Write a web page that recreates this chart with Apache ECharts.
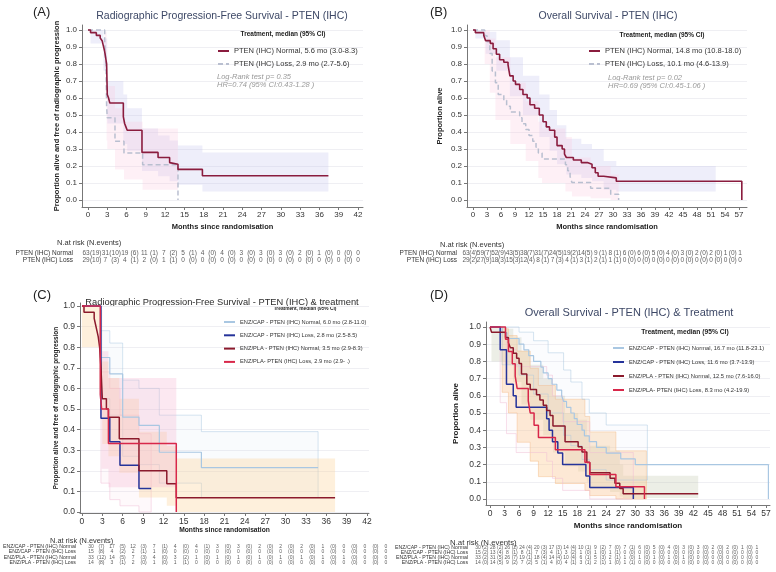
<!DOCTYPE html>
<html><head><meta charset="utf-8">
<script src="https://cdn.jsdelivr.net/npm/echarts@6/dist/echarts.min.js"></script>
<style>html,body{margin:0;padding:0;background:#fff}#c{width:776px;height:572px}</style>
</head><body><div id="c"></div>
<script>
// ---------- Tick labels ----------
const yTicks = [0,0.1,0.2,0.3,0.4,0.5,0.6,0.7,0.8,0.9,1.0];
const xTicks42 = [0,3,6,9,12,15,18,21,24,27,30,33,36,39,42];
const xTicks57 = [0,3,6,9,12,15,18,21,24,27,30,33,36,39,42,45,48,51,54,57];

// ---------- Panel A: rPFS by PTEN ----------
const aNormT = [0,0.4,1.3,1.9,2.2,2.4,2.6,2.9,3.0,3.2,3.4,5.5,5.7,5.9,6.1,8.4,10.9,12.7,13.0,14.0,17.8,37.4];
const aNormS = [1,0.984,0.968,0.952,0.937,0.905,0.873,0.80,0.62,0.60,0.57,0.49,0.45,0.43,0.41,0.28,0.25,0.22,0.21,0.18,0.143,0.143];
const aLossT = [0,2.6,2.8,2.9,3.0,4.2,5.6,8.5,14.0];
const aLossS = [1,0.931,0.793,0.552,0.483,0.345,0.276,0.207,0];
const aNormCIt = [0,0.4,2.4,3.0,5.5,6.1,8.4,10.9,12.7,14.0,17.8];
const aNormCIlo = [1,0.92,0.76,0.45,0.33,0.29,0.17,0.14,0.11,0.09,0.05];
const aNormCIhi = [1,1.0,0.95,0.70,0.62,0.54,0.42,0.38,0.35,0.32,0.28];
const aLossCIt = [0,2.6,2.9,3.0,4.2,5.6,8.5];
const aLossCIlo = [1,0.78,0.35,0.30,0.18,0.12,0.06];
const aLossCIhi = [1,0.99,0.74,0.67,0.54,0.46,0.42];
const riskA = {
  rows: ['PTEN (IHC) Normal','PTEN (IHC) Loss'],
  counts: [[63,31,19,11,7,5,4,4,3,3,3,2,1,0,0],[29,7,4,2,1,0,0,0,0,0,0,0,0,0,0]],
  events: [[19,10,6,1,2,1,0,0,0,0,0,0,0,0],[10,3,1,0,1,0,0,0,0,0,0,0,0,0]]
};

// ---------- Panel B: OS by PTEN ----------
const bNormT = [0,0.5,2.3,2.7,3.7,4.3,5.0,5.7,6.6,7.5,7.9,8.6,9.1,10.0,10.7,11.6,12.2,13.2,14.2,15.0,15.7,16.4,17.5,18.0,19.1,19.6,20.0,21.5,23.2,24.5,25.5,26.2,26.8,28.0,30.7,57.6];
const bNormS = [1,0.984,0.968,0.937,0.921,0.889,0.857,0.825,0.81,0.794,0.73,0.70,0.68,0.65,0.62,0.60,0.56,0.54,0.50,0.46,0.43,0.41,0.37,0.32,0.30,0.27,0.25,0.235,0.22,0.21,0.19,0.16,0.14,0.13,0.11,0];
const bLossT = [0,2.5,3.0,3.6,4.1,4.8,5.4,6.6,7.2,8.0,10.0,10.5,11.3,12.0,12.8,13.5,14.0,14.8,19.8,20.3,20.8,21.2,25.2,29.5,31.2];
const bLossS = [1,0.966,0.931,0.862,0.759,0.69,0.621,0.586,0.552,0.517,0.483,0.448,0.414,0.379,0.345,0.31,0.276,0.241,0.207,0.172,0.138,0.103,0.069,0.034,0];
const bNormCIt = [0,0.5,2.7,5.0,7.9,10.7,14.2,16.4,18.0,20.0,23.2,25.5,28.0,30.7];
const bNormCIlo = [1,0.95,0.86,0.76,0.61,0.50,0.37,0.29,0.21,0.15,0.13,0.11,0.06,0.05];
const bNormCIhi = [1,1.0,0.99,0.94,0.84,0.73,0.62,0.53,0.44,0.36,0.33,0.30,0.23,0.20];
const bLossCIt = [0,2.5,3.6,4.8,8.0,11.3,14.0,14.8,19.8,21.2,25.2,29.5];
const bLossCIlo = [1,0.80,0.63,0.47,0.33,0.23,0.13,0.10,0.05,0.02,0.01,0.0];
const bLossCIhi = [1,1.0,0.95,0.84,0.69,0.58,0.46,0.42,0.37,0.25,0.20,0.15];
const riskB = {
  rows: ['PTEN (IHC) Normal','PTEN (IHC) Loss'],
  counts: [[63,59,52,43,38,31,24,19,14,9,8,6,6,5,4,3,2,2,1,1],[29,27,18,15,12,8,7,4,3,2,1,0,0,0,0,0,0,0,0,0]],
  events: [[4,7,9,5,7,7,5,2,5,1,1,0,0,0,0,0,0,0,0],[2,9,3,3,4,1,3,1,1,1,1,0,0,0,0,0,0,0,0]]
};

// ---------- Panel C: rPFS by PTEN & treatment ----------
const cCapNT = [0,2.7,4.1,6.0,8.4,11.4,17.6,34.8];
const cCapNS = [1,0.75,0.67,0.46,0.42,0.29,0.215,0.215];
const cCapLT = [0,2.8,4.1,5.6,8.4,10.2];
const cCapLS = [1,0.455,0.341,0.227,0.114,0.114];
const cPlaNT = [0,0.3,1.8,2.0,2.2,2.4,2.6,2.8,3.0,3.6,3.9,5.5,8.4,12.5,13.9,37.3];
const cPlaNS = [1,0.97,0.94,0.91,0.88,0.85,0.80,0.70,0.55,0.50,0.46,0.355,0.20,0.137,0.069,0.069];
const cPlaLT = [0,2.7,2.9,3.9,13.9];
const cPlaLS = [1,0.571,0.5,0.333,0];
const cPlaNCIt = [0,2.6,3.0,3.9,5.5,8.4,12.5,13.9];
const cPlaNCIlo = [0.80,0.60,0.33,0.27,0.19,0.07,0.03,0.0];
const cPlaNCIhi = [1.0,0.98,0.73,0.65,0.55,0.39,0.32,0.26];
const cPlaLCIt = [2.9,3.9];
const cPlaLCIlo = [0.21,0.12];
const cPlaLCIhi = [0.78,0.65];
const cCapLCIt = [2.8,4.1,5.6,8.4];
const cCapLCIlo = [0.14,0.06,0.03,0.0];
const cCapLCIhi = [0.68,0.60,0.47,0.38];
const cCapNCIt = [2.7,4.1,6.0,8.4,11.4,17.6];
const cCapNCIlo = [0.55,0.47,0.27,0.23,0.14,0.07];
const cCapNCIhi = [0.88,0.82,0.64,0.60,0.47,0.39];
const riskC = {
  rows: ['ENZ/CAP - PTEN (IHC) Normal','ENZ/CAP - PTEN (IHC) Loss','ENZ/PLA - PTEN (IHC) Normal','ENZ/PLA - PTEN (IHC) Loss'],
  counts: [[30,17,12,7,4,4,3,3,2,2,2,1,0,0,0],[15,4,2,1,0,0,0,0,0,0,0,0,0,0,0],[33,14,7,4,3,1,1,1,1,1,1,1,1,0,0],[14,3,2,1,1,0,0,0,0,0,0,0,0,0,0]],
  events: [[7,5,3,1,0,1,0,0,0,0,0,0,0,0],[8,2,1,0,0,0,0,0,0,0,0,0,0,0],[12,5,3,0,2,0,0,0,0,0,0,0,0,0],[8,1,0,0,1,0,0,0,0,0,0,0,0,0]]
};

// ---------- Panel D: OS by PTEN & treatment ----------
const dCapNT = [0,2.5,3.5,6.0,7.0,8.0,9.0,10.5,11.0,12.0,12.8,13.8,14.8,15.2,15.8,16.7,17.4,18.0,19.0,19.5,20.5,22.0,24.0,27.0,30.0,57.5];
const dCapNS = [1,0.967,0.933,0.90,0.867,0.833,0.80,0.767,0.733,0.70,0.667,0.633,0.60,0.567,0.533,0.50,0.467,0.433,0.40,0.367,0.333,0.30,0.267,0.233,0.20,0];
const dCapLT = [0,2.1,3.4,4.8,5.4,11.7,12.2,12.9,14.0,15.0,19.8,20.6,29.6];
const dCapLS = [1,0.867,0.667,0.60,0.533,0.467,0.40,0.333,0.267,0.20,0.133,0.067,0];
const dPlaNT = [0,0.3,3.2,3.8,4.2,4.8,5.5,6.0,6.5,7.6,8.3,9.6,10.3,11.0,11.7,12.4,13.0,15.5,18.2,19.0,20.0,20.6,24.8,25.8,26.8,27.5,43.0];
const dPlaNS = [1,0.97,0.939,0.909,0.879,0.848,0.818,0.788,0.727,0.667,0.636,0.606,0.576,0.545,0.515,0.485,0.424,0.333,0.303,0.273,0.212,0.152,0.121,0.091,0.061,0.03,0.03];
const dPlaLT = [0,3.2,3.8,4.6,5.2,5.6,7.9,8.3,9.1,10.0,13.5,19.6,20.6,26.0,31.9];
const dPlaLS = [1,0.929,0.857,0.786,0.714,0.643,0.571,0.5,0.429,0.357,0.286,0.214,0.143,0.071,0];
const dPlaNCIt = [0,0.3,3.2,4.8,6.5,8.3,11.0,13.0,15.5,18.2,20.0,20.6,24.8,26.8,27.5];
const dPlaNCIlo = [1,0.80,0.78,0.68,0.55,0.46,0.37,0.27,0.19,0.16,0.10,0.06,0.04,0.015,0.005];
const dPlaNCIhi = [1,1.0,0.99,0.94,0.86,0.78,0.70,0.60,0.50,0.46,0.37,0.31,0.28,0.20,0.135];
const dPlaLCIt = [2.5,3.8,5.6,8.3,10.0,13.5,19.6,20.6,26.0];
const dPlaLCIlo = [0.62,0.50,0.33,0.22,0.13,0.09,0.05,0.02,0.0];
const dPlaLCIhi = [0.99,0.95,0.86,0.76,0.66,0.58,0.48,0.39,0.28];
const dCapLCIt = [2.1,3.4,5.4,11.7,12.9,15.0,20.6];
const dCapLCIlo = [0.56,0.38,0.27,0.22,0.12,0.05,0.0];
const dCapLCIhi = [0.97,0.87,0.77,0.72,0.60,0.45,0.27];
const dCapNCIt = [2.5,6.0,9.0,12.0,15.2,16.7,19.0,20.5,24.0];
const dCapNCIlo = [0.78,0.72,0.61,0.50,0.37,0.31,0.23,0.17,0.11];
const dCapNCIhi = [1.0,0.97,0.92,0.85,0.75,0.68,0.58,0.50,0.43];
const riskD = {
  rows: ['ENZ/CAP - PTEN (IHC) Normal','ENZ/CAP - PTEN (IHC) Loss','ENZ/PLA - PTEN (IHC) Normal','ENZ/PLA - PTEN (IHC) Loss'],
  counts: [[30,28,26,24,20,17,14,10,9,7,7,6,5,4,3,3,2,2,1,1],[15,13,8,8,7,4,3,1,1,1,0,0,0,0,0,0,0,0,0,0],[33,31,26,19,18,14,10,6,5,2,1,1,1,1,1,0,0,0,0,0],[14,14,9,7,5,4,4,3,2,1,1,0,0,0,0,0,0,0,0,0]],
  events: [[2,2,2,4,3,3,4,1,2,0,1,0,0,0,0,0,0,0,0],[2,4,1,1,3,1,2,0,0,1,0,0,0,0,0,0,0,0,0],[2,5,7,1,4,4,4,1,3,1,0,0,0,0,0,0,0,0,0],[0,5,2,2,1,0,1,1,1,0,1,0,0,0,0,0,0,0,0]]
};

// ---------- Labels ----------
const nA = ['PTEN (IHC) Normal, 5.6 mo (3.0-8.3)','PTEN (IHC) Loss, 2.9 mo (2.7-5.6)'];
const nB = ['PTEN (IHC) Normal, 14.8 mo (10.8-18.0)','PTEN (IHC) Loss, 10.1 mo (4.6-13.9)'];
const nC = ['ENZ/CAP - PTEN (IHC) Normal, 6.0 mo (2.8-11.0)','ENZ/CAP - PTEN (IHC) Loss, 2.8 mo (2.5-8.5)','ENZ/PLA - PTEN (IHC) Normal, 3.5 mo (2.9-8.3)','ENZ/PLA- PTEN (IHC) Loss, 2.9 mo (2.9- .)'];
const nD = ['ENZ/CAP - PTEN (IHC) Normal, 16.7 mo (11.8-23.1)','ENZ/CAP - PTEN (IHC) Loss, 11.6 mo (3.7-13.9)','ENZ/PLA - PTEN (IHC) Normal, 12.5 mo (7.6-16.0)','ENZ/PLA- PTEN (IHC) Loss, 8.3 mo (4.2-19.9)'];

const FONT = "'Liberation Sans', Arial, sans-serif";
const MAROON = '#8a1c3e', LOSSGREY = '#b9bfd0';
const CAPN = '#a9c7e2', CAPL = '#25339a', PLAN = '#8b1a2c', PLAL = '#d8274a';

function km(name, gi, t, s, color, width, dashed, z) {
  return {type:'line', name, xAxisIndex:gi, yAxisIndex:gi, step:'end', symbol:'none',
    data: t.map((x,i)=>[x, s[i]]), lineStyle:{color, width, type: dashed ? [5,3] : 'solid'},
    itemStyle:{color}, z: z||3, animation:false};
}
function band(gi, t, lo, hi, end, fill, stroke) {
  return {type:'custom', xAxisIndex:gi, yAxisIndex:gi, silent:true, z:1, animation:false,
    data:[[t[0], hi[0]]],
    renderItem:(params, api) => {
      const pts = [];
      for (let i=0;i<t.length;i++){ const t2 = i<t.length-1 ? t[i+1] : end; pts.push(api.coord([t[i],hi[i]])); pts.push(api.coord([t2,hi[i]])); }
      for (let i=t.length-1;i>=0;i--){ const t2 = i<t.length-1 ? t[i+1] : end; pts.push(api.coord([t2,lo[i]])); pts.push(api.coord([t[i],lo[i]])); }
      return {type:'polygon', shape:{points:pts}, style:{fill, stroke: stroke||null, lineWidth:0.7}};
    }};
}
function risk(gi, R, fs, color) {
  const out = [];
  R.counts.forEach((row, r) => {
    const data = [];
    row.forEach((c,i)=> data.push({value:[i, r], label:{formatter:String(c)}}));
    R.events[r].forEach((e,i)=> data.push({value:[i+0.5, r], label:{formatter:'('+e+')'}}));
    out.push({type:'scatter', xAxisIndex:gi, yAxisIndex:gi, symbolSize:1, silent:true, animation:false,
      itemStyle:{color:'rgba(0,0,0,0)'}, data, labelLayout:{hideOverlap:false},
      label:{show:true, position:'inside', fontSize:fs, color, fontFamily:FONT}});
  });
  return out;
}
function plotX(gi, min, max, ticks, nameGap, nameFs, labFs) {
  return {type:'value', gridIndex:gi, min, max,
    axisLine:{show:true, onZero:false, lineStyle:{color:'#777', width:1}},
    axisTick:{show:true, length:3, inside:false, customValues:ticks, lineStyle:{color:'#777'}},
    axisLabel:{customValues:ticks, fontSize:labFs, color:'#333', margin:4, fontFamily:FONT},
    splitLine:{show:false},
    name:'Months since randomisation', nameLocation:'middle', nameGap,
    nameTextStyle:{fontWeight:'bold', fontSize:nameFs, color:'#222', fontFamily:FONT}};
}
function plotY(gi, min, max, name, nameGap, nameFs, labFs) {
  return {type:'value', gridIndex:gi, min, max,
    axisLine:{show:true, onZero:false, lineStyle:{color:'#777', width:1}},
    axisTick:{show:true, length:3, customValues:yTicks, lineStyle:{color:'#777'}},
    axisLabel:{customValues:yTicks, fontSize:labFs, color:'#333', margin:5, fontFamily:FONT, formatter:v=>v.toFixed(1)},
    splitLine:{show:true, lineStyle:{color:'#efeff3', width:1}},
    name, nameLocation:'middle', nameGap, nameRotate:90,
    nameTextStyle:{fontWeight:'bold', fontSize:nameFs, color:'#222', fontFamily:FONT}};
}
function riskX(gi, n) { return {type:'value', gridIndex:gi, min:0, max:n-1, show:false}; }
function riskY(gi, rows, fs, margin) {
  return {type:'category', gridIndex:gi, data:rows, inverse:true,
    axisLine:{show:false}, axisTick:{show:false}, splitLine:{show:false},
    axisLabel:{interval:0, fontSize:fs, color:'#333', margin, fontFamily:FONT}};
}
function txt(x, y, text, fs, opts) {
  opts = opts || {};
  return {type:'text', x, y, silent:true, style:{text, fontSize:fs, fontFamily:FONT, fill:opts.fill||'#222',
    fontWeight:opts.bold?'bold':'normal', fontStyle:opts.italic?'italic':'normal',
    textAlign:opts.align||'left', textVerticalAlign:'middle'}};
}
function legend(left, top, names, ih, gap, fs) {
  return {left, top, orient:'vertical', itemWidth:11, itemHeight:ih, itemGap:gap, data:names,
    itemStyle:{opacity:0}, textStyle:{fontSize:fs, color:'#333', fontFamily:FONT}, selectedMode:false};
}

const chart = echarts.init(document.getElementById('c'), null, {renderer:'canvas'});
const option = {
  backgroundColor:'#fff',
  animation:false,
  textStyle:{fontFamily:FONT},
  grid:[
    {left:82, top:25, width:281, height:182},
    {left:467, top:25, width:280, height:182},
    {left:80, top:303, width:289, height:210},
    {left:486, top:322, width:284, height:183},
    {left:86, top:250, width:272, height:13},
    {left:466, top:250, width:274, height:13},
    {left:84, top:544, width:302, height:21},
    {left:478, top:544.5, width:279, height:21}
  ],
  xAxis:[
    plotX(0, -0.93, 42.78, xTicks42, 16, 7.5, 8),
    plotX(1, -1.29, 58.71, xTicks57, 16, 7.5, 8),
    plotX(2, -0.29, 42.3, xTicks42, 13, 6.7, 8.5),
    plotX(3, -0.83, 57.83, xTicks57, 17, 8, 8.5),
    riskX(4, 15), riskX(5, 20), riskX(6, 15), riskX(7, 20)
  ],
  yAxis:[
    plotY(0, -0.041, 1.029, 'Proportion alive and free of radiographic progression', 21, 7.5, 8),
    plotY(1, -0.041, 1.029, 'Proportion alive', 23, 7.5, 8),
    plotY(2, -0.005, 1.0145, 'Proportion alive and free of radiographic progression', 18, 6.4, 8.5),
    plotY(3, -0.035, 1.029, 'Proportion alive', 26, 8, 8.5),
    riskY(4, riskA.rows, 6.5, 13), riskY(5, riskB.rows, 6.5, 9),
    riskY(6, riskC.rows, 5.2, 15), riskY(7, riskD.rows, 5.2, 10)
  ],
  legend:[
    legend(212, 42, nA, 8, 5, 7.5),
    legend(583, 42, nB, 8, 5, 7.5),
    legend(218, 314, nC, 6, 7.3, 5.7),
    legend(607, 340, nD, 6, 8, 5.8)
  ],
  graphic:[
    txt(33, 12, '(A)', 13), txt(430, 12, '(B)', 13), txt(33, 295, '(C)', 13), txt(430, 295, '(D)', 13),
    txt(222, 16, 'Radiographic Progression-Free Survival - PTEN (IHC)', 10.5, {align:'center', fill:'#3d4866'}),
    txt(608, 16, 'Overall Survival - PTEN (IHC)', 10.5, {align:'center', fill:'#3d4866'}),
    txt(222, 302, 'Radiographic Progression-Free Survival - PTEN (IHC) & treatment', 9.3, {align:'center', fill:'#2b2b2b'}),
    txt(629, 313, 'Overall Survival - PTEN (IHC) & Treatment', 11, {align:'center', fill:'#3d4866'}),
    txt(283, 34, 'Treatment, median (95% CI)', 6.5, {align:'center', bold:true}),
    txt(662, 35, 'Treatment, median (95% CI)', 6.5, {align:'center', bold:true}),
    txt(305, 308.5, 'Treatment, median (95% CI)', 4.8, {align:'center', bold:true}),
    txt(685, 332, 'Treatment, median (95% CI)', 6.7, {align:'center', bold:true}),
    txt(217, 77, 'Log-Rank test p= 0.35', 7.5, {italic:true, fill:'#999'}),
    txt(217, 85, 'HR=0.74 (95% CI:0.43-1.28 )', 7.5, {italic:true, fill:'#999'}),
    txt(608, 78, 'Log-Rank test p= 0.02', 7.5, {italic:true, fill:'#999'}),
    txt(608, 86, 'HR=0.69 (95% CI:0.45-1.06 )', 7.5, {italic:true, fill:'#999'}),
    txt(57, 243, 'N.at risk (N.events)', 7.5, {fill:'#333'}),
    txt(440, 245, 'N.at risk (N.events)', 7.5, {fill:'#333'}),
    txt(50, 541, 'N.at risk (N.events)', 7.4, {fill:'#333'}),
    txt(450, 543, 'N.at risk (N.events)', 7.8, {fill:'#333'})
  ],
  series:[
    band(0, aNormCIt, aNormCIlo, aNormCIhi, 37.4, 'rgba(190,190,235,0.26)'),
    band(0, aLossCIt, aLossCIlo, aLossCIhi, 14.0, 'rgba(250,200,222,0.28)'),
    km(nA[0], 0, aNormT, aNormS, MAROON, 1.6, false, 4),
    km(nA[1], 0, aLossT, aLossS, LOSSGREY, 1.5, true, 3),

    band(1, bNormCIt, bNormCIlo, bNormCIhi, 52.0, 'rgba(190,190,235,0.26)'),
    band(1, bLossCIt, bLossCIlo, bLossCIhi, 31.2, 'rgba(250,200,222,0.28)'),
    km(nB[0], 1, bNormT, bNormS, MAROON, 1.6, false, 4),
    km(nB[1], 1, bLossT, bLossS, LOSSGREY, 1.5, true, 3),

    band(2, cCapNCIt, cCapNCIlo, cCapNCIhi, 34.8, 'rgba(200,220,240,0.10)', 'rgba(170,200,225,0.7)'),
    band(2, cCapLCIt, cCapLCIlo, cCapLCIhi, 10.2, 'rgba(245,200,220,0.10)', 'rgba(240,190,215,0.7)'),
    band(2, cPlaNCIt, cPlaNCIlo, cPlaNCIhi, 37.3, 'rgba(252,210,150,0.33)'),
    band(2, cPlaLCIt, cPlaLCIlo, cPlaLCIhi, 13.9, 'rgba(245,180,210,0.30)'),
    km(nC[0], 2, cCapNT, cCapNS, CAPN, 1.2, false, 3),
    km(nC[1], 2, cCapLT, cCapLS, CAPL, 1.5, false, 4),
    km(nC[2], 2, cPlaNT, cPlaNS, PLAN, 1.5, false, 5),
    km(nC[3], 2, cPlaLT, cPlaLS, PLAL, 1.5, false, 6),

    band(3, dPlaNCIt, dPlaNCIlo, dPlaNCIhi, 43.0, 'rgba(180,190,160,0.26)'),
    band(3, dPlaLCIt, dPlaLCIlo, dPlaLCIhi, 32.3, 'rgba(252,205,150,0.40)', 'rgba(245,180,120,0.6)'),
    band(3, dCapNCIt, dCapNCIlo, dCapNCIhi, 32.5, 'rgba(200,220,240,0.08)', 'rgba(170,200,225,0.7)'),
    band(3, dCapLCIt, dCapLCIlo, dCapLCIhi, 29.6, 'rgba(245,200,220,0.08)', 'rgba(240,190,215,0.7)'),
    km(nD[0], 3, dCapNT, dCapNS, CAPN, 1.2, false, 3),
    km(nD[1], 3, dCapLT, dCapLS, CAPL, 1.5, false, 4),
    km(nD[2], 3, dPlaNT, dPlaNS, PLAN, 1.5, false, 5),
    km(nD[3], 3, dPlaLT, dPlaLS, PLAL, 1.5, false, 6),

    ...risk(4, riskA, 6.5, '#333'),
    ...risk(5, riskB, 6.5, '#333'),
    ...risk(6, riskC, 5, '#333'),
    ...risk(7, riskD, 5, '#333')
  ]
};
chart.setOption(option);
</script></body></html>
